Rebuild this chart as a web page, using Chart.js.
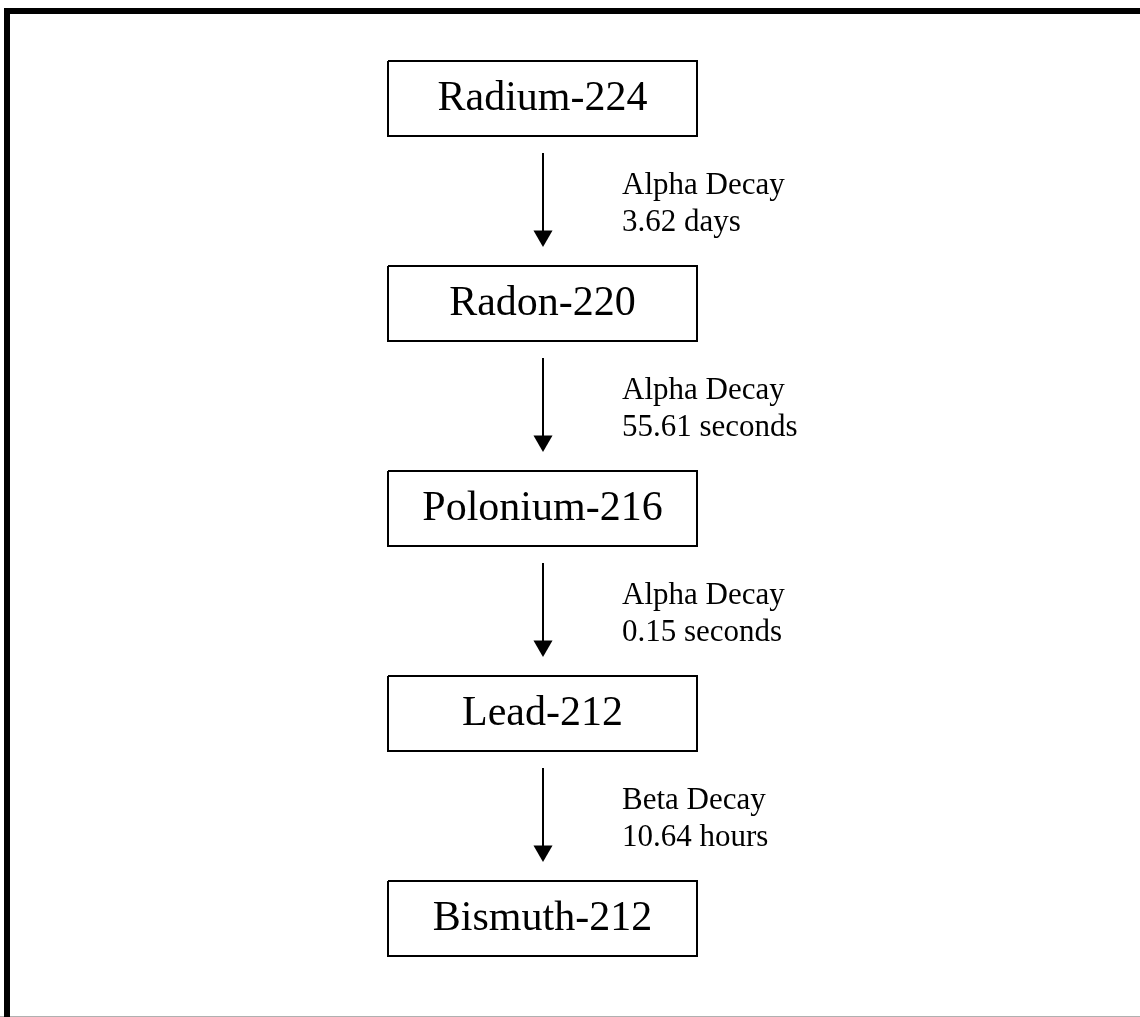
<!DOCTYPE html>
<html>
<head>
<meta charset="utf-8">
<script src="https://cdn.jsdelivr.net/npm/chart.js@4"></script>
<style>
  html, body { margin: 0; padding: 0; background: #fff; }
  #wrap { width: 1140px; height: 1017px; position: relative; }
</style>
</head>
<body>
<div id="wrap"><canvas id="decayChart"></canvas></div>
<script>
// decay chain: Thorium series from radium-224
const nuclides = ['Radium-224', 'Radon-220', 'Polonium-216', 'Lead-212', 'Bismuth-212'];
const decayModes = ['Alpha Decay', 'Alpha Decay', 'Alpha Decay', 'Beta Decay'];
const halfLives = ['3.62 days', '55.61 seconds', '0.15 seconds', '10.64 hours'];

// layout (in canvas units, the scales run 0..1140 and 0..1017)
const W = 1140, H = 1017;
const boxLeft = 388, boxRight = 697;
const boxHeight = 75, rowStep = 205, firstTop = 61;
const arrowX = 543, arrowGap = 17, arrowLen = 94, headR = 11;
const labelX = 622;

function rowTop(i) { return firstTop + i * rowStep; }

const datasets = [];

// frame: thick top and left edge, thin grey bottom line
datasets.push({
    data: [{ x: 7, y: H }, { x: 7, y: 11 }, { x: W, y: 11 }],
    borderColor: '#000', borderWidth: 6
});
datasets.push({
    data: [{ x: 0, y: 1016.5 }, { x: W, y: 1016.5 }],
    borderColor: '#b0b0b0', borderWidth: 1
});

nuclides.forEach((name, i) => {
    const t = rowTop(i), b = t + boxHeight;
    datasets.push({
        data: [
            { x: boxLeft, y: t }, { x: boxRight, y: t },
            { x: boxRight, y: b }, { x: boxLeft, y: b }, { x: boxLeft, y: t }
        ],
        borderColor: '#000', borderWidth: 2
    });
});

decayModes.forEach((mode, i) => {
    const top = rowTop(i) + boxHeight + arrowGap;
    const tip = top + arrowLen;
    datasets.push({
        data: [{ x: arrowX, y: top }, { x: arrowX, y: tip - headR }],
        borderColor: '#000', borderWidth: 2
    });
    datasets.push({
        data: [{ x: arrowX, y: tip - headR }],
        showLine: false,
        pointStyle: 'triangle', rotation: 180,
        pointRadius: headR, backgroundColor: '#000', borderWidth: 0
    });
});

const labelPlugin = {
    id: 'labels',
    afterDatasetsDraw(chart) {
        const { ctx, scales: { x, y } } = chart;
        ctx.save();
        ctx.fillStyle = '#000';
        ctx.font = '42px "Liberation Serif"';
        ctx.textAlign = 'center';
        ctx.textBaseline = 'middle';
        nuclides.forEach((name, i) => {
            const cy = rowTop(i) + boxHeight / 2;
            ctx.fillText(name, x.getPixelForValue((boxLeft + boxRight) / 2), y.getPixelForValue(cy));
        });
        ctx.font = '31px "Liberation Serif"';
        ctx.textAlign = 'left';
        ctx.textBaseline = 'alphabetic';
        decayModes.forEach((mode, i) => {
            const top = rowTop(i) + boxHeight + arrowGap;
            ctx.fillText(mode, x.getPixelForValue(labelX), y.getPixelForValue(top + 41));
            ctx.fillText(halfLives[i], x.getPixelForValue(labelX), y.getPixelForValue(top + 78));
        });
        ctx.restore();
    }
};

new Chart(document.getElementById('decayChart'), {
    type: 'scatter',
    data: { datasets: datasets.map(d => Object.assign({
        showLine: true, pointRadius: 0, tension: 0, clip: false, fill: false
    }, d)) },
    options: {
        responsive: true,
        maintainAspectRatio: false,
        animation: false,
        layout: { padding: 0, autoPadding: false },
        plugins: { legend: { display: false }, tooltip: { enabled: false } },
        scales: {
            x: { type: 'linear', min: 0, max: W, display: false },
            y: { type: 'linear', min: 0, max: H, reverse: true, display: false }
        }
    },
    plugins: [labelPlugin]
});
</script>
</body>
</html>
